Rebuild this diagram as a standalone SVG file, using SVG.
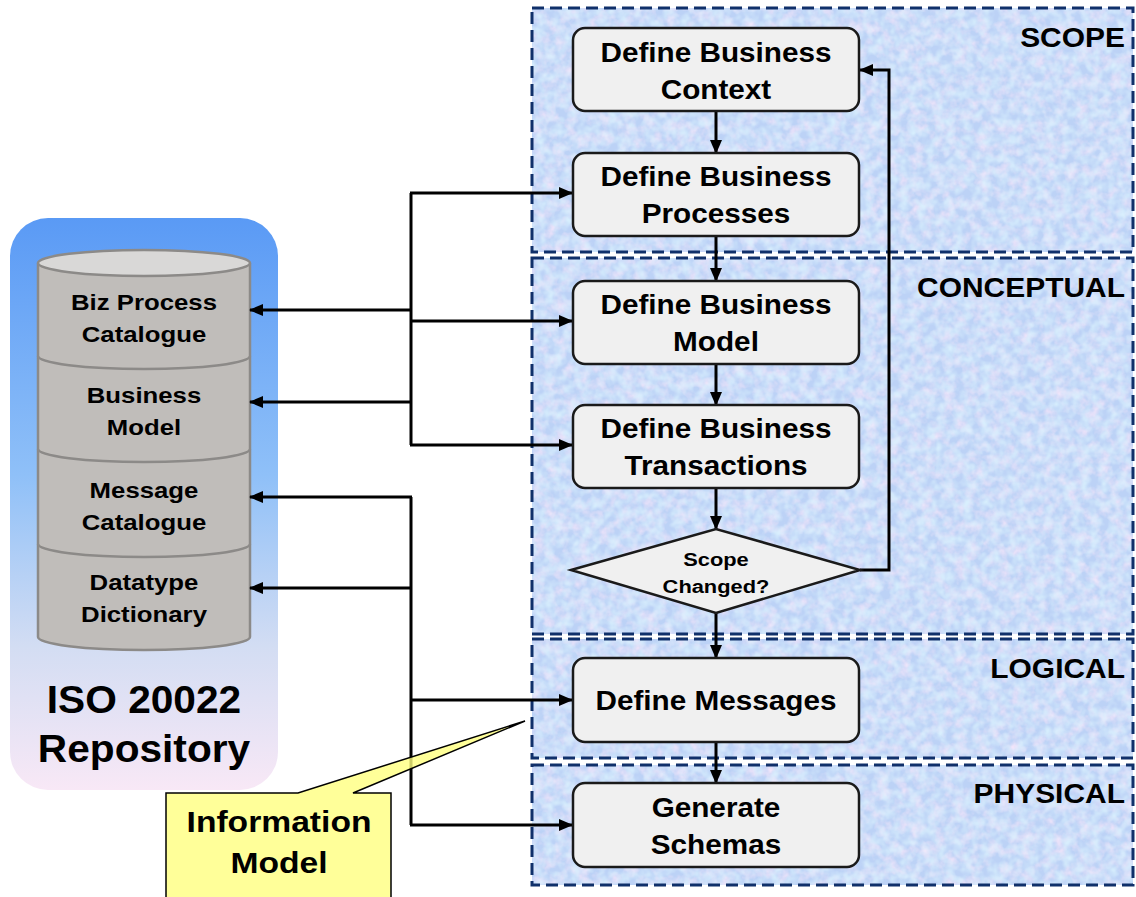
<svg xmlns="http://www.w3.org/2000/svg" width="1136" height="897" viewBox="0 0 1136 897">
<style>
text{font-family:"Liberation Sans",Arial,sans-serif;font-weight:bold;fill:#000}
.box{fill:#F0F0F0;stroke:#1a1a1a;stroke-width:2.5}
.bt{font-size:27px;text-anchor:middle}
.ct{font-size:23px;text-anchor:middle}
.ph{font-size:28px;text-anchor:end}
.lane{fill:#BCD2F6;stroke:none}
.dash{fill:none;stroke:#10306A;stroke-width:3;stroke-dasharray:12 6}
.cyl{fill:#C0BDBA;stroke:#8C8A88;stroke-width:2.5}
.div{fill:none;stroke:#8C8A88;stroke-width:2.5}
.conn{fill:none;stroke:#000;stroke-width:3}
.arr{marker-end:url(#ah)}
</style>
<defs>
<marker id="ah" markerUnits="userSpaceOnUse" markerWidth="14" markerHeight="12" refX="13" refY="6" orient="auto">
<path d="M0,0 L14,6 L0,12 z" fill="#000"/>
</marker>
<linearGradient id="repo" x1="0" y1="0" x2="0" y2="1">
<stop offset="0" stop-color="#5A9AF5"/>
<stop offset="0.45" stop-color="#8FC0F8"/>
<stop offset="0.75" stop-color="#D3DDF3"/>
<stop offset="1" stop-color="#F8E8F6"/>
</linearGradient>
<filter id="tex" x="0" y="0" width="1" height="1" filterUnits="objectBoundingBox">
<feTurbulence type="fractalNoise" baseFrequency="0.09" numOctaves="3" seed="7" result="n"/>
<feColorMatrix in="n" type="matrix" values="0 0 0 0 0.94  0 0 0 0 0.80  0 0 0 0 0.96  1.7 0 0 0 -0.66" result="p"/>
<feComposite in="p" in2="SourceGraphic" operator="in"/>
</filter>
<filter id="tex2" x="0" y="0" width="1" height="1" filterUnits="objectBoundingBox">
<feTurbulence type="fractalNoise" baseFrequency="0.11" numOctaves="2" seed="19" result="n"/>
<feColorMatrix in="n" type="matrix" values="0 0 0 0 0.70  0 0 0 0 0.88  0 0 0 0 0.99  0 1.7 0 0 -0.6" result="p"/>
<feComposite in="p" in2="SourceGraphic" operator="in"/>
</filter>
</defs>
<rect width="1136" height="897" fill="#FFFFFF"/>

<g id="lanes">
<g id="lane-scope">
<rect class="lane" x="532" y="8" width="601" height="244"/>
<rect x="532" y="8" width="601" height="244" fill="#fff" filter="url(#tex)"/>
<rect x="532" y="8" width="601" height="244" fill="#fff" filter="url(#tex2)"/>
<rect class="dash" x="532" y="8" width="601" height="244"/>
<text class="ph" transform="translate(1125,47) scale(1.07,1)">SCOPE</text>
</g>
<g id="lane-conceptual">
<rect class="lane" x="532" y="258" width="601" height="376"/>
<rect x="532" y="258" width="601" height="376" fill="#fff" filter="url(#tex)"/>
<rect x="532" y="258" width="601" height="376" fill="#fff" filter="url(#tex2)"/>
<rect class="dash" x="532" y="258" width="601" height="376"/>
<text class="ph" transform="translate(1125,297) scale(1.07,1)">CONCEPTUAL</text>
</g>
<g id="lane-logical">
<rect class="lane" x="532" y="639" width="601" height="119"/>
<rect x="532" y="639" width="601" height="119" fill="#fff" filter="url(#tex)"/>
<rect x="532" y="639" width="601" height="119" fill="#fff" filter="url(#tex2)"/>
<rect class="dash" x="532" y="639" width="601" height="119"/>
<text class="ph" transform="translate(1125,678) scale(1.07,1)">LOGICAL</text>
</g>
<g id="lane-physical">
<rect class="lane" x="532" y="765" width="601" height="120"/>
<rect x="532" y="765" width="601" height="120" fill="#fff" filter="url(#tex)"/>
<rect x="532" y="765" width="601" height="120" fill="#fff" filter="url(#tex2)"/>
<rect class="dash" x="532" y="765" width="601" height="120"/>
<text class="ph" transform="translate(1125,803) scale(1.07,1)">PHYSICAL</text>
</g>
</g>

<g id="repository">
<rect x="10" y="218" width="268" height="572" rx="38" fill="url(#repo)"/>
<path class="cyl" d="M38,263 L38,637 A106,13 0 0 0 250,637 L250,263"/>
<ellipse cx="144" cy="263" rx="106" ry="13" fill="#D9D8D7" stroke="#8C8A88" stroke-width="2.5"/>
<path class="div" d="M38,356 A106,13 0 0 0 250,356"/>
<path class="div" d="M38,449 A106,13 0 0 0 250,449"/>
<path class="div" d="M38,544 A106,13 0 0 0 250,544"/>
<text class="ct" transform="translate(144,310) scale(1.12,1)">Biz Process</text>
<text class="ct" transform="translate(144,342) scale(1.12,1)">Catalogue</text>
<text class="ct" transform="translate(144,403) scale(1.12,1)">Business</text>
<text class="ct" transform="translate(144,435) scale(1.12,1)">Model</text>
<text class="ct" transform="translate(144,498) scale(1.12,1)">Message</text>
<text class="ct" transform="translate(144,530) scale(1.12,1)">Catalogue</text>
<text class="ct" transform="translate(144,590) scale(1.12,1)">Datatype</text>
<text class="ct" transform="translate(144,622) scale(1.12,1)">Dictionary</text>
<text style="font-size:38px;text-anchor:middle" transform="translate(144,713) scale(1.07,1)">ISO 20022</text>
<text style="font-size:38px;text-anchor:middle" transform="translate(144,762) scale(1.07,1)">Repository</text>
</g>

<g id="connectors">
<path class="conn arr" d="M716,111 V153"/>
<path class="conn arr" d="M716,236 V281"/>
<path class="conn arr" d="M716,364 V405"/>
<path class="conn arr" d="M716,488 V529"/>
<path class="conn arr" d="M716,613 V658"/>
<path class="conn arr" d="M716,742 V783"/>
<path class="conn arr" d="M860,570 H889 V70 H860"/>
<path class="conn" d="M411,193 V445"/>
<path class="conn arr" d="M410,193 H572"/>
<path class="conn arr" d="M410,321 H572"/>
<path class="conn arr" d="M410,445 H572"/>
<path class="conn arr" d="M412,310 H250"/>
<path class="conn arr" d="M412,402 H250"/>
<path class="conn" d="M411,497 V825"/>
<path class="conn arr" d="M412,497 H250"/>
<path class="conn arr" d="M412,588 H250"/>
<path class="conn arr" d="M410,700 H572"/>
<path class="conn arr" d="M410,825 H572"/>
</g>

<g id="define-business-context">
<rect class="box" x="573" y="28" width="286" height="83" rx="12"/>
<text class="bt" transform="translate(716,62) scale(1.1,1)">Define Business</text>
<text class="bt" transform="translate(716,99) scale(1.1,1)">Context</text>
</g>
<g id="define-business-processes">
<rect class="box" x="573" y="153" width="286" height="83" rx="12"/>
<text class="bt" transform="translate(716,186) scale(1.1,1)">Define Business</text>
<text class="bt" transform="translate(716,223) scale(1.1,1)">Processes</text>
</g>
<g id="define-business-model">
<rect class="box" x="573" y="281" width="286" height="83" rx="12"/>
<text class="bt" transform="translate(716,314) scale(1.1,1)">Define Business</text>
<text class="bt" transform="translate(716,351) scale(1.1,1)">Model</text>
</g>
<g id="define-business-transactions">
<rect class="box" x="573" y="405" width="286" height="83" rx="12"/>
<text class="bt" transform="translate(716,438) scale(1.1,1)">Define Business</text>
<text class="bt" transform="translate(716,475) scale(1.1,1)">Transactions</text>
</g>
<g id="scope-changed">
<polygon class="box" points="571,570 716,529 860,570 716,613"/>
<text style="font-size:19px;text-anchor:middle" transform="translate(716,566) scale(1.15,1)">Scope</text>
<text style="font-size:19px;text-anchor:middle" transform="translate(716,593) scale(1.15,1)">Changed?</text>
</g>
<g id="define-messages">
<rect class="box" x="573" y="658" width="286" height="84" rx="12"/>
<text class="bt" transform="translate(716,710) scale(1.1,1)">Define Messages</text>
</g>
<g id="generate-schemas">
<rect class="box" x="573" y="783" width="286" height="84" rx="12"/>
<text class="bt" transform="translate(716,817) scale(1.1,1)">Generate</text>
<text class="bt" transform="translate(716,854) scale(1.1,1)">Schemas</text>
</g>

<g id="information-model">
<path d="M166,793 H298 L525,721 L353,793 H391 V905 H166 Z" fill="#FFFF80" fill-opacity="0.8" stroke="#000" stroke-width="1.5"/>
<text style="font-size:29px;text-anchor:middle" transform="translate(279,832) scale(1.16,1)">Information</text>
<text style="font-size:29px;text-anchor:middle" transform="translate(279,873) scale(1.16,1)">Model</text>
</g>
</svg>
